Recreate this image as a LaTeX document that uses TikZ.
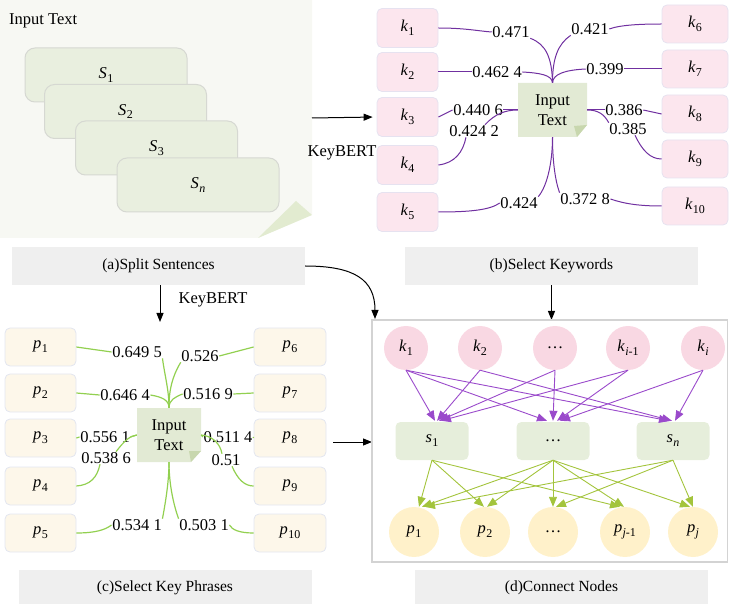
\documentclass[tikz,border=0pt]{standalone}
\usepackage{fontspec}
\setmainfont{Liberation Serif}
\usetikzlibrary{arrows.meta}
\definecolor{bgA}{HTML}{F7F8F3}
\definecolor{foldA}{HTML}{E2EBD0}
\definecolor{sentfill}{HTML}{E9EFDF}
\definecolor{sentdraw}{HTML}{D6D8D2}
\definecolor{kfill}{HTML}{FCE6EE}
\definecolor{kdraw}{HTML}{E6E2F0}
\definecolor{pfill}{HTML}{FDF7EA}
\definecolor{pdraw}{HTML}{E2E6F0}
\definecolor{notefill}{HTML}{E2EAD4}
\definecolor{notefold}{HTML}{C8D7AE}
\definecolor{capfill}{HTML}{EFEFEF}
\definecolor{curveP}{HTML}{7030A0}
\definecolor{curveG}{HTML}{92D050}
\definecolor{arrP}{HTML}{9A4ACB}
\definecolor{arrG}{HTML}{A3C43C}
\definecolor{circK}{HTML}{F9D8E3}
\definecolor{circP}{HTML}{FFF1CA}
\definecolor{sfill}{HTML}{E6EEDB}
\definecolor{framecol}{HTML}{D3D3D3}
\newcommand{\mysub}[2]{\textit{#1}\kern0.3pt\raisebox{-0.5ex}{\fontsize{12}{12}\selectfont #2}}
\begin{document}
\begin{tikzpicture}[x=1pt,y=-1pt,
  every node/.style={font=\fontsize{16.5}{18}\selectfont, inner sep=1pt},
  sentbox/.style={draw=sentdraw, line width=1pt, fill=sentfill, rounded corners=10pt, minimum width=162pt, minimum height=54pt},
  kbox/.style={draw=kdraw, line width=0.8pt, fill=kfill, rounded corners=5pt, minimum width=61pt, minimum height=39pt},
  kboxr/.style={kbox, minimum width=66pt, minimum height=38pt},
  pbox/.style={draw=pdraw, line width=0.8pt, fill=pfill, rounded corners=5pt, minimum width=71pt, minimum height=38pt},
  capbox/.style={fill=capfill, minimum width=293pt, minimum height=38pt, font=\fontsize{15.5}{18}\selectfont},
  val/.style={inner sep=0.5pt},
  notetext/.style={font=\fontsize{16.5}{20}\selectfont, align=center},
  kcircle/.style={circle, fill=circK, minimum size=44pt, inner sep=0pt},
  pcircle/.style={circle, fill=circP, minimum size=50pt, inner sep=0pt},
  sbox/.style={fill=sfill, rounded corners=5pt, minimum width=73pt, minimum height=38pt},
  purline/.style={draw=curveP, line width=1pt},
  grnline/.style={draw=curveG, line width=1.2pt},
  arrowP/.style={draw=arrP, line width=0.9pt, -{Triangle[length=10pt,width=8pt]}},
  arrowG/.style={draw=arrG, line width=0.9pt, -{Triangle[length=10pt,width=8pt]}},
  blk/.style={draw=black, line width=1pt, -{Triangle[length=9pt,width=7pt]}}
]
\useasboundingbox (0,0) rectangle (729,604);

% ---------- panel (a)
\fill[bgA] (0,0) -- (312,0) -- (312,215) -- (258,238) -- (0,238) -- cycle;
\fill[foldA] (258,238) -- (296,201) -- (312,215) -- cycle;
\node[anchor=west] (inA) at (8,21) {Input Text};
\node[sentbox] (S1) at (106,75) {\mysub{S}{1}};
\node[sentbox] (S2) at (125.5,111.5) {\mysub{S}{2}};
\node[sentbox] (S3) at (156.5,148) {\mysub{S}{3}};
\node[sentbox] (Sn) at (198,185) {\mysub{S}{\textit{n}}};

\coordinate (aOut) at (312,118);
\node (kb1) at (342,153) {KeyBERT};

% ---------- panel (b)
\node[kbox] (k1) at (407.5,28) {\mysub{k}{1}};
\node[kbox] (k2) at (407.5,72) {\mysub{k}{2}};
\node[kbox] (k3) at (407.5,117) {\mysub{k}{3}};
\node[kbox] (k4) at (407.5,165) {\mysub{k}{4}};
\node[kbox] (k5) at (407.5,212) {\mysub{k}{5}};
\node[kboxr] (k6) at (695,24) {\mysub{k}{6}};
\node[kboxr] (k7) at (695,69) {\mysub{k}{7}};
\node[kboxr] (k8) at (695,114) {\mysub{k}{8}};
\node[kboxr] (k9) at (695,159) {\mysub{k}{9}};
\node[kboxr] (k10) at (695,206) {\mysub{k}{10}};
\draw[blk, shorten >=4pt] (aOut) -- (k3.west);

\fill[notefill] (518,83) -- (587,83) -- (587,125) -- (577,137) -- (518,137) -- cycle;
\fill[notefold] (574,126) -- (587,125) -- (577,137) -- cycle;
\node[notetext, minimum width=69pt, minimum height=54pt] (nb) at (552.5,110) {Input\\Text};

\node[val] (w1) at (511,32) {0.471};
\node[val] (w6) at (590,29) {0.421};
\node[val] (w2) at (497,72) {0.462 4};
\node[val] (w7) at (605,69) {0.399};
\node[val] (w3) at (478,110) {0.440 6};
\node[val] (w4) at (474,131) {0.424 2};
\node[val] (w8) at (624,110) {0.386};
\node[val] (w9) at (628,129) {0.385};
\node[val] (w5) at (519,203) {0.424};
\node[val] (w10) at (585,199) {0.372 8};

\draw[purline] (k1.east) .. controls (465,28) and (478,31) .. (w1.west);
\draw[purline] (w1.south east) .. controls (546,44) and (552,58) .. (nb.north);
\draw[purline] (k6.west) .. controls (640,24) and (620,25) .. (w6.east);
\draw[purline] (w6.south west) .. controls (558,44) and (552.5,58) .. (nb.north);
\draw[purline] (k2.east) -- (w2.west);
\draw[purline] (w2.east) .. controls (540,73) and (552,75) .. (nb.north);
\draw[purline] (k7.west) -- (w7.east);
\draw[purline] (w7.west) .. controls (565,70) and (553,74) .. (nb.north);
\draw[purline] (k3.east) -- (w3.west);
\draw[purline] (w3.east) -- (nb.west);
\draw[purline] (k4.east) .. controls (455,163) and (463,152) .. ([xshift=-8pt]w4.south);
\draw[purline] ([xshift=11pt]w4.north) .. controls (495,114) and (505,110) .. (nb.west);
\draw[purline] (k8.west) -- (w8.east);
\draw[purline] (w8.west) -- (nb.east);
\draw[purline] (nb.east) .. controls (598,110) and (604,114) .. (w9.north west);
\draw[purline] ([xshift=7pt]w9.south) .. controls (642,150) and (650,159) .. (k9.west);
\draw[purline] (k5.east) .. controls (470,212) and (490,210) .. (w5.west);
\draw[purline] (w5.north east) .. controls (548,185) and (552.5,160) .. (nb.south);
\draw[purline] (k10.west) .. controls (640,206) and (625,204) .. (w10.east);
\draw[purline] (w10.north west) .. controls (555,180) and (552.5,160) .. (nb.south);

% ---------- captions
\node[capbox] (capA) at (158.5,266) {(a)Split Sentences};
\node[capbox] (capB) at (551.5,266) {(b)Select Keywords};
\node[capbox, minimum height=36pt] (capC) at (165,588) {(c)Select Key Phrases};
\node[capbox, minimum height=36pt] (capD) at (561.5,588) {(d)Connect Nodes};

\coordinate (cTop) at (160,322);
\coordinate (aEnd) at (375,319);
\coordinate (dTop) at (551.5,320);
\draw[blk] ([xshift=1.5pt]capA.south) -- (cTop);
\node (kb2) at (213,300) {KeyBERT};
\draw[blk] (capA.east) .. controls (355,266) and (375,280) .. (aEnd);
\draw[blk] (capB.south) -- (dTop);

% ---------- panel (c)
\node[pbox] (p1) at (40.5,347) {\mysub{p}{1}};
\node[pbox] (p2) at (40.5,393) {\mysub{p}{2}};
\node[pbox] (p3) at (40.5,438) {\mysub{p}{3}};
\node[pbox] (p4) at (40.5,486) {\mysub{p}{4}};
\node[pbox] (p5) at (40.5,533) {\mysub{p}{5}};
\node[pbox, minimum width=72pt] (p6) at (290,347) {\mysub{p}{6}};
\node[pbox, minimum width=72pt] (p7) at (290,393) {\mysub{p}{7}};
\node[pbox, minimum width=72pt] (p8) at (290,438) {\mysub{p}{8}};
\node[pbox, minimum width=72pt] (p9) at (290,486) {\mysub{p}{9}};
\node[pbox, minimum width=72pt] (p10) at (290,533) {\mysub{p}{10}};

\fill[notefill] (137,408) -- (201,408) -- (201,451) -- (191,462) -- (137,462) -- cycle;
\fill[notefold] (189,451) -- (201,451) -- (191,462) -- cycle;
\node[notetext, minimum width=64pt, minimum height=54pt] (nc) at (169,435) {Input\\Text};

\node[val] (x1) at (137,352) {0.649 5};
\node[val] (x6) at (200,356) {0.526};
\node[val] (x2) at (125,395) {0.646 4};
\node[val] (x7) at (208,394) {0.516 9};
\node[val] (x3) at (105,437) {0.556 1};
\node[val] (x4) at (106,458) {0.538 6};
\node[val] (x8) at (228,437) {0.511 4};
\node[val] (x9) at (226,460) {0.51};
\node[val] (x5) at (137,525) {0.534 1};
\node[val] (x10) at (204,525) {0.503 1};

\draw[grnline] (p1.east) -- (x1.west);
\draw[grnline] (x1.south east) .. controls (165,377) and (169,390) .. (nc.north);
\draw[grnline] (p6.west) -- (x6.east);
\draw[grnline] (x6.south west) .. controls (172,377) and (169,390) .. (nc.north);
\draw[grnline] (p2.east) -- (x2.west);
\draw[grnline] (x2.east) .. controls (162,397) and (169,400) .. (nc.north);
\draw[grnline] (p7.west) -- (x7.east);
\draw[grnline] (x7.west) .. controls (175,397) and (169,400) .. (nc.north);
\draw[grnline] (p3.east) -- (x3.west);
\draw[grnline] (x3.east) -- (nc.west);
\draw[grnline] (p4.east) .. controls (90,485) and (97,478) .. ([xshift=-6pt]x4.south);
\draw[grnline] ([xshift=10pt]x4.north) .. controls (125,440) and (130,436) .. (nc.west);
\draw[grnline] (p8.west) -- (x8.east);
\draw[grnline] (x8.west) -- (nc.east);
\draw[grnline] (nc.east) .. controls (212,436) and (220,443) .. ([xshift=-4pt]x9.north);
\draw[grnline] ([xshift=6pt]x9.south) .. controls (238,480) and (245,486) .. (p9.west);
\draw[grnline] (p5.east) .. controls (95,533) and (105,530) .. (x5.west);
\draw[grnline] (x5.north east) .. controls (166,500) and (169,480) .. (nc.south);
\draw[grnline] (p10.west) .. controls (240,533) and (232,530) .. (x10.east);
\draw[grnline] (x10.north west) .. controls (172,500) and (169,480) .. (nc.south);

\coordinate (cOut) at (333,442);
\coordinate (dIn) at (372,442);
\draw[blk] (cOut) -- (dIn);

% ---------- panel (d)
\draw[draw=framecol, line width=1.2pt] (372,320) rectangle (727.5,562);
\node[kcircle] (K1) at (406,348) {\mysub{k}{1}};
\node[kcircle] (K2) at (480,348) {\mysub{k}{2}};
\node[kcircle] (K3) at (555,348) {\ldots};
\node[kcircle] (K4) at (628,348) {\mysub{k}{\textit{i}-1}};
\node[kcircle] (K5) at (703,348) {\mysub{k}{\textit{i}}};
\node[sbox] (s1) at (432,441) {\mysub{s}{1}};
\node[sbox] (s2) at (553,441) {\ldots};
\node[sbox] (s3) at (673,441) {\mysub{s}{\textit{n}}};
\node[pcircle] (P1) at (414,532) {\mysub{p}{1}};
\node[pcircle] (P2) at (485,532) {\mysub{p}{2}};
\node[pcircle] (P3) at (553,532) {\ldots};
\node[pcircle] (P4) at (625,532) {\mysub{p}{\textit{j}-1}};
\node[pcircle] (P5) at (693,532) {\mysub{p}{\textit{j}}};

\draw[arrowP] (K1.south) -- ([xshift=3pt,yshift=1pt]s1.north);
\draw[arrowP] (K1.south) -- ([xshift=-6pt,yshift=1pt]s2.north);
\draw[arrowP] (K1.south) -- ([xshift=-4pt,yshift=1pt]s3.north);
\draw[arrowP] (K2.south) -- ([xshift=5pt,yshift=1pt]s1.north);
\draw[arrowP] (K2.south) -- ([xshift=-1pt,yshift=1pt]s3.north);
\draw[arrowP] (K3.south) -- ([xshift=7pt,yshift=1pt]s1.north);
\draw[arrowP] (K3.south) -- ([xshift=0pt,yshift=1pt]s2.north);
\draw[arrowP] (K4.south) -- ([xshift=9pt,yshift=1pt]s1.north);
\draw[arrowP] (K4.south) -- ([xshift=4pt,yshift=1pt]s2.north);
\draw[arrowP] (K5.south) -- ([xshift=7pt,yshift=1pt]s2.north);
\draw[arrowP] (K5.south) -- ([xshift=2pt,yshift=1pt]s3.north);

\draw[arrowG] (s1.south) -- ([xshift=5pt]P1.north);
\draw[arrowG] (s1.south) -- ([xshift=-1pt]P2.north);
\draw[arrowG] (s1.south) -- ([xshift=-5pt]P4.north);
\draw[arrowG] (s2.south) -- ([xshift=8pt]P1.north);
\draw[arrowG] (s2.south) -- ([xshift=2pt]P2.north);
\draw[arrowG] (s2.south) -- (P3.north);
\draw[arrowG] (s2.south) -- ([xshift=-1pt]P4.north);
\draw[arrowG] (s2.south) -- ([xshift=-3pt]P5.north);
\draw[arrowG] (s3.south) -- ([xshift=11pt]P1.north);
\draw[arrowG] (s3.south) -- ([xshift=3pt]P3.north);
\draw[arrowG] (s3.south) -- (P5.north);
\end{tikzpicture}
\end{document}
